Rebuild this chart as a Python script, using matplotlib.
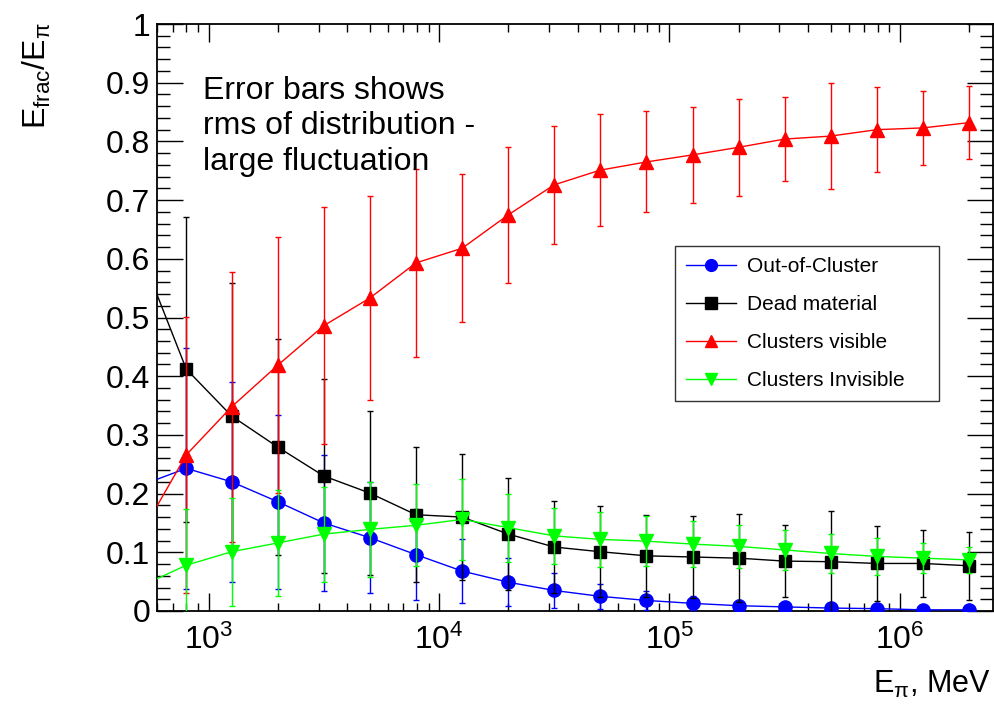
import matplotlib
matplotlib.use('Agg')
import matplotlib.pyplot as plt
from matplotlib.lines import Line2D
from matplotlib.ticker import FixedLocator, MultipleLocator, LogLocator, NullFormatter

plt.rcParams['font.family'] = ['Liberation Sans', 'DejaVu Sans']
plt.rcParams['mathtext.fontset'] = 'custom'
plt.rcParams['mathtext.rm'] = 'Liberation Sans'
plt.rcParams['mathtext.it'] = 'Liberation Sans'
plt.rcParams['mathtext.bf'] = 'Liberation Sans:bold'

# pion energy, MeV (first point lies just left of the visible range)
energy = [500, 800, 1260, 2000, 3160, 5000, 7940, 12600, 20000, 31600,
          50000, 79400, 126000, 200000, 316000, 500000, 794000, 1260000, 2000000]

out_of_cluster = [0.213, 0.243, 0.220, 0.186, 0.150, 0.125, 0.096, 0.068, 0.049, 0.035,
                  0.025, 0.018, 0.013, 0.009, 0.007, 0.005, 0.004, 0.002, 0.002]
out_of_cluster_rms = [0.22, 0.205, 0.170, 0.148, 0.116, 0.095, 0.077, 0.055, 0.041, 0.030,
                      0.021, 0.016, 0.012, 0.009, 0.007, 0.006, 0.005, 0.004, 0.003]

dead_material = [0.616, 0.412, 0.332, 0.279, 0.230, 0.201, 0.164, 0.160, 0.131, 0.109,
                 0.101, 0.094, 0.092, 0.090, 0.085, 0.084, 0.081, 0.081, 0.077]
dead_material_rms = [0.28, 0.260, 0.227, 0.184, 0.165, 0.140, 0.115, 0.107, 0.096, 0.078,
                     0.078, 0.070, 0.070, 0.075, 0.062, 0.086, 0.064, 0.057, 0.058]

clusters_visible = [0.126, 0.266, 0.348, 0.419, 0.486, 0.533, 0.593, 0.618, 0.675, 0.726,
                    0.751, 0.765, 0.777, 0.790, 0.804, 0.809, 0.820, 0.823, 0.832]
clusters_visible_rms = [0.22, 0.235, 0.230, 0.218, 0.202, 0.174, 0.160, 0.126, 0.116, 0.100,
                        0.095, 0.086, 0.082, 0.083, 0.072, 0.090, 0.072, 0.063, 0.062]

clusters_invisible = [0.041, 0.078, 0.101, 0.116, 0.131, 0.139, 0.146, 0.156, 0.142, 0.128,
                      0.122, 0.119, 0.114, 0.110, 0.104, 0.098, 0.093, 0.090, 0.087]
clusters_invisible_rms = [0.10, 0.095, 0.092, 0.090, 0.081, 0.081, 0.070, 0.069, 0.058, 0.048,
                          0.047, 0.042, 0.039, 0.036, 0.034, 0.033, 0.031, 0.026, 0.022]

labels = ['Out-of-Cluster', 'Dead material', 'Clusters visible', 'Clusters Invisible']
y_ticks = [0, 0.1, 0.2, 0.3, 0.4, 0.5, 0.6, 0.7, 0.8, 0.9, 1]
y_tick_labels = ['0', '0.1', '0.2', '0.3', '0.4', '0.5', '0.6', '0.7', '0.8', '0.9', '1']
x_ticks = [1e3, 1e4, 1e5, 1e6]
x_tick_labels = [r'$\mathregular{10^{3}}$', r'$\mathregular{10^{4}}$',
                 r'$\mathregular{10^{5}}$', r'$\mathregular{10^{6}}$']

series = [
    (out_of_cluster, out_of_cluster_rms, '#0000ff', 'o', 9.5),
    (dead_material, dead_material_rms, '#000000', 's', 9),
    (clusters_visible, clusters_visible_rms, '#ff0000', '^', 10),
    (clusters_invisible, clusters_invisible_rms, '#00ff00', 'v', 10),
]

fig = plt.figure(figsize=(9.94, 7.04), dpi=100)
ax = fig.add_axes([157 / 994, 93 / 704, 836 / 994, 587 / 704])

handles = []
for i, (vals, rms, col, mk, ms) in enumerate(series):
    ax.errorbar(energy, vals, yerr=rms, color=col, marker=mk, markersize=ms,
                lw=1, elinewidth=1, capsize=2.5, capthick=1, zorder=3 + i)
    handles.append(Line2D([], [], color=col, marker=mk, markersize=ms - 1, lw=1))

ax.set_xscale('log')
ax.set_xlim(10 ** 2.776, 10 ** 6.404)
ax.set_ylim(0, 1)

ax.xaxis.set_major_locator(FixedLocator(x_ticks))
ax.set_xticklabels(x_tick_labels)
ax.xaxis.set_minor_locator(LogLocator(base=10, subs=range(2, 10), numticks=20))
ax.xaxis.set_minor_formatter(NullFormatter())
ax.yaxis.set_major_locator(FixedLocator(y_ticks))
ax.set_yticklabels(y_tick_labels)
ax.yaxis.set_minor_locator(MultipleLocator(0.02))

ax.tick_params(which='both', direction='in', top=True, right=True, width=1, labelsize=23)
ax.tick_params(axis='x', which='major', length=13, pad=10)
ax.tick_params(axis='x', which='minor', length=6)
ax.tick_params(axis='y', which='major', length=19, pad=5)
ax.tick_params(axis='y', which='minor', length=9.5)
for sp in ax.spines.values():
    sp.set_linewidth(1.3)

leg = ax.legend(handles, labels, loc='upper left', mode='expand',
                bbox_to_anchor=(0.620, 0.621, 0.316, 0.0),
                fontsize=15, frameon=True, fancybox=False, framealpha=1,
                edgecolor='#333333', borderpad=0.5, labelspacing=0.92,
                handlelength=2.4, handletextpad=0.55, borderaxespad=0)
leg.get_frame().set_linewidth(1)

fig.text(203 / 994, 1 - 99 / 704, 'Error bars shows', fontsize=23, va='baseline')
fig.text(203 / 994, 1 - 134 / 704, 'rms of distribution -', fontsize=23, va='baseline')
fig.text(203 / 994, 1 - 170 / 704, 'large fluctuation', fontsize=23, va='baseline')

fig.text(37 / 994, 1 - 22 / 704, r'$\mathregular{E_{frac}/E_{π}}$', fontsize=23,
         rotation=90, ha='center', va='top')
fig.text(991 / 994, 1 - 693 / 704, r'$\mathregular{E_{π}}$, MeV', fontsize=22,
         ha='right', va='baseline')

fig.savefig('out.png', dpi=100)
